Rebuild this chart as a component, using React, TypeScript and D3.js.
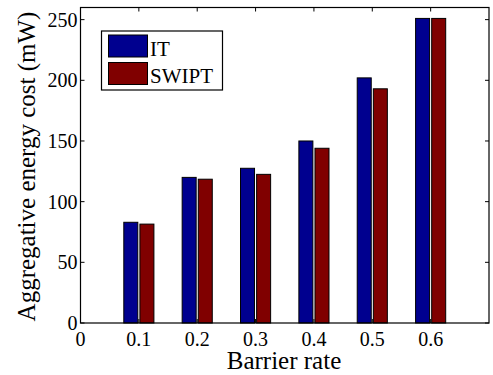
import React from "react";
import * as d3 from "d3";

const categories = [0.1, 0.2, 0.3, 0.4, 0.5, 0.6];
const itValues = [83, 120, 127.5, 150, 202, 251];
const swiptValues = [81.5, 118.5, 122.5, 144, 193, 251];
const xTicks = [0, 0.1, 0.2, 0.3, 0.4, 0.5, 0.6];
const yTicks = [0, 50, 100, 150, 200, 250];
const seriesNames = ["IT", "SWIPT"];
const seriesColors = ["#00008f", "#800000"];

const W = 493, H = 375;
const L = 80.5, R = 489, T = 7.5, B = 323;
const font = "'Liberation Serif', 'Times New Roman', serif";

export default function App() {
  const x = d3.scaleLinear().domain([0, 0.7]).range([L, R]);
  const y = d3.scaleLinear().domain([0, 260]).range([B, T]);
  const bw = 0.024;
  const off = 0.0138;
  const series = [itValues, swiptValues];
  const ts = (size: number) => ({ fontFamily: font, fontSize: size });
  return (
    <svg width={W} height={H} style={{ position: "absolute", left: 0, top: 0, background: "#fff" }}>
      <rect x={0} y={0} width={W} height={H} fill="#fff" />
      {series.map((vals, si) =>
        categories.map((c, i) => {
          const cx = c + (si === 0 ? -off : off);
          const x0 = x(cx - bw / 2);
          const x1 = x(cx + bw / 2);
          return (
            <rect key={`${si}-${i}`} x={x0} y={y(vals[i])} width={x1 - x0} height={y(0) - y(vals[i])}
              fill={seriesColors[si]} stroke="#000" strokeWidth={1} />
          );
        })
      )}
      {xTicks.map((t) => (
        <g key={`xt${t}`}>
          <line x1={x(t)} x2={x(t)} y1={B} y2={B - 4} stroke="#000" strokeWidth={1} />
          <line x1={x(t)} x2={x(t)} y1={T} y2={T + 4} stroke="#000" strokeWidth={1} />
          <text x={x(t)} y={345.5} textAnchor="middle" style={ts(20)}>{t === 0 ? "0" : t.toFixed(1)}</text>
        </g>
      ))}
      {yTicks.map((t) => (
        <g key={`yt${t}`}>
          <line x1={L} x2={L + 4} y1={y(t)} y2={y(t)} stroke="#000" strokeWidth={1} />
          <line x1={R} x2={R - 4} y1={y(t)} y2={y(t)} stroke="#000" strokeWidth={1} />
          <text x={77.5} y={y(t) + 7} textAnchor="end" style={ts(20)}>{t}</text>
        </g>
      ))}
      <rect x={L} y={T} width={R - L} height={B - T} fill="none" stroke="#000" strokeWidth={1.2} />
      <text x={284} y={368.5} textAnchor="middle" style={ts(25)}>Barrier rate</text>
      <text transform={`translate(34.5,166.5) rotate(-90)`} textAnchor="middle" style={ts(25)}>Aggregative energy cost (mW)</text>
      <rect x={101.5} y={31} width={121} height={59} fill="#fff" stroke="#000" strokeWidth={1.2} />
      {seriesNames.map((n, i) => (
        <g key={n}>
          <rect x={108.5} y={35 + i * 27.5} width={39} height={22} fill={seriesColors[i]} stroke="#000" strokeWidth={1} />
          <text x={150} y={56 + i * 27} style={ts(21)}>{n}</text>
        </g>
      ))}
    </svg>
  );
}
